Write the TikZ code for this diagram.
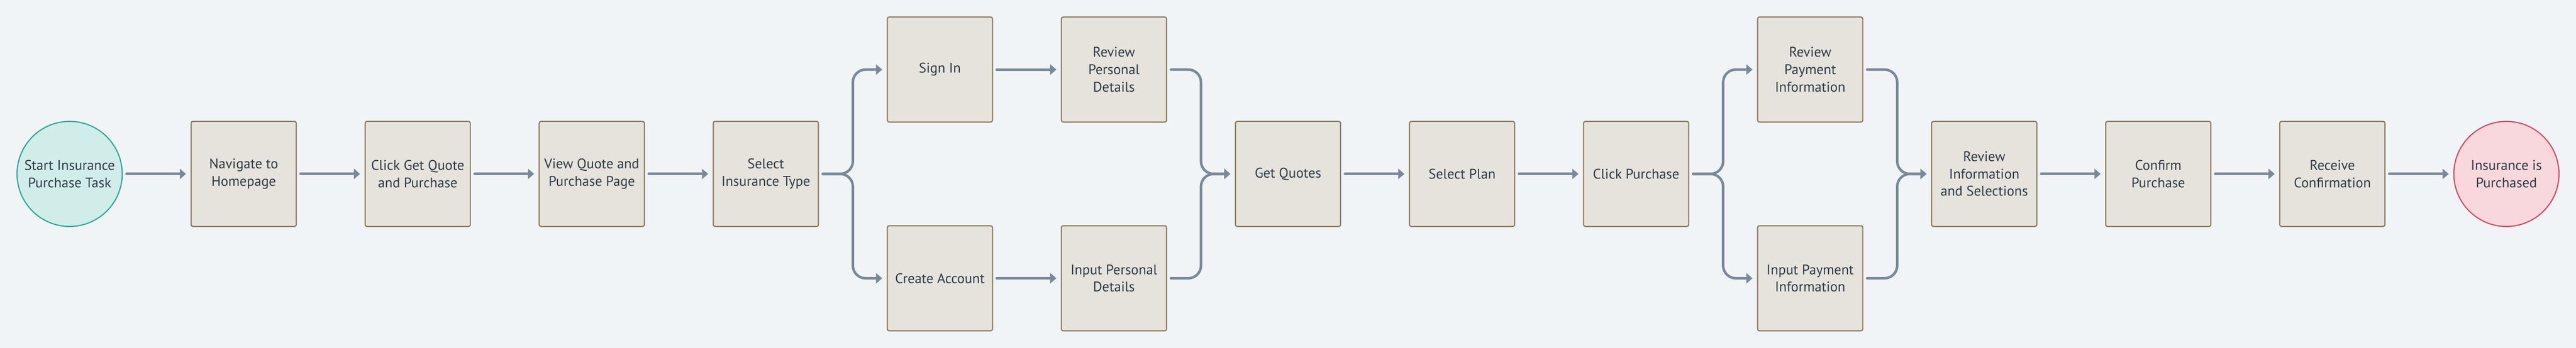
\documentclass[tikz,border=0pt]{standalone}
\usepackage{fontspec}
\setmainfont{PT Sans}
\usetikzlibrary{positioning, chains, arrows.meta, calc}

\definecolor{canvas}{HTML}{F0F4F7}
\definecolor{taskfill}{HTML}{E6E3DC}
\definecolor{taskline}{HTML}{8C7B5D}
\definecolor{ink}{HTML}{2E3A46}
\definecolor{flow}{HTML}{7A8998}
\definecolor{startfill}{HTML}{D1EDEA}
\definecolor{startline}{HTML}{2AA897}
\definecolor{endfill}{HTML}{F8D8DD}
\definecolor{endline}{HTML}{D8485F}

\begin{document}
\begin{tikzpicture}[
    >={Triangle[length=0.17cm, width=0.28cm]}, % Flat triangle tips
    % Styles
    task/.style={ % Process step
        rectangle,
        rounded corners=0.5mm,
        minimum height=2.9cm,
        minimum width=2.9cm,
        inner sep=2pt,
        outer sep=0pt,
        draw=taskline,
        fill=taskfill,
        line width=0.9pt,
        align=center,
        text=ink,
        font=\fontsize{11pt}{13.6pt}\selectfont
    },
    taskc/.style={ % Steps in a chain
        task,
        on chain,
        join
    },
    terminal/.style={ % Start or end event
        circle,
        minimum size=2.9cm,
        inner sep=1pt,
        outer sep=0pt,
        line width=0.9pt,
        align=center,
        text=ink,
        font=\fontsize{11pt}{13.6pt}\selectfont
    },
    arrow/.style={
        ->,
        draw=flow,
        line width=2pt,
        line cap=round,
        shorten <=0.12cm,
        shorten >=0.14cm
    },
    arrowc/.style={ % Arrows with rounded corners
        arrow,
        rounded corners=0.35cm
    },
    every join/.style={arrow},
    node distance=1.9cm
]

    % Canvas
    \fill[canvas] (-1.92,-4.8) rectangle (69.12,4.8);
    \useasboundingbox (-1.92,-4.8) rectangle (69.12,4.8);

    % Opening steps
    \begin{scope}[start chain=going right]
        \node[terminal, fill=startfill, draw=startline, on chain] (start) {Start Insurance\\Purchase Task};
        \node[taskc] (nav) {Navigate to\\Homepage};
        \node[taskc] (getq) {Click Get Quote\\and Purchase};
        \node[taskc] (viewq) {View Quote and\\Purchase Page};
        \node[taskc] (sel) {Select\\Insurance Type};
    \end{scope}

    % Existing customer
    \begin{scope}[start chain=going right, nodes=taskc]
        \path[shift={(24,2.88)}]
            node (signin) {Sign In}
            node (revpers) {Review\\Personal\\Details};
    \end{scope}

    % New customer
    \begin{scope}[start chain=going right, nodes=taskc]
        \path[shift={(24,-2.88)}]
            node (create) {Create Account}
            node (inpers) {Input Personal\\Details};
    \end{scope}

    % Quote and plan
    \begin{scope}[start chain=going right, nodes=taskc]
        \path[shift={(33.6,0)}]
            node (quotes) {Get Quotes}
            node (plan) {Select Plan}
            node (clickp) {Click Purchase};
    \end{scope}

    % Payment
    \node[task] (revpay) at (48,2.88) {Review\\Payment\\Information};
    \node[task] (inpay) at (48,-2.88) {Input Payment\\Information};

    % Closing steps
    \begin{scope}[start chain=going right]
        \node[taskc] (revinfo) at (52.8,0) {Review\\Information\\and Selections};
        \node[taskc] (confirm) {Confirm\\Purchase};
        \node[taskc] (receive) {Receive\\Confirmation};
        \node[terminal, fill=endfill, draw=endline, on chain, join] (done) {Insurance is\\Purchased};
    \end{scope}

    % Forks and merges
    \coordinate (fork1) at ($(sel.east)!.5!(sel.east -| signin.west)$);
    \coordinate (merge1) at ($(quotes.west)!.5!(quotes.west -| revpers.east)$);
    \coordinate (fork2) at ($(clickp.east)!.5!(clickp.east -| revpay.west)$);
    \coordinate (merge2) at ($(revinfo.west)!.5!(revinfo.west -| revpay.east)$);

    \draw[arrowc] (sel.east) -- (fork1) |- (signin.west);
    \draw[arrowc] (sel.east) -- (fork1) |- (create.west);
    \draw[arrowc] (revpers.east) -| (merge1) -- (quotes.west);
    \draw[arrowc] (inpers.east) -| (merge1) -- (quotes.west);

    \draw[arrowc] (clickp.east) -- (fork2) |- (revpay.west);
    \draw[arrowc] (clickp.east) -- (fork2) |- (inpay.west);
    \draw[arrowc] (revpay.east) -| (merge2) -- (revinfo.west);
    \draw[arrowc] (inpay.east) -| (merge2) -- (revinfo.west);

    % Straight steps inside branches
    \draw[arrow] (signin) -- (revpers);
    \draw[arrow] (create) -- (inpers);
\end{tikzpicture}
\end{document}
